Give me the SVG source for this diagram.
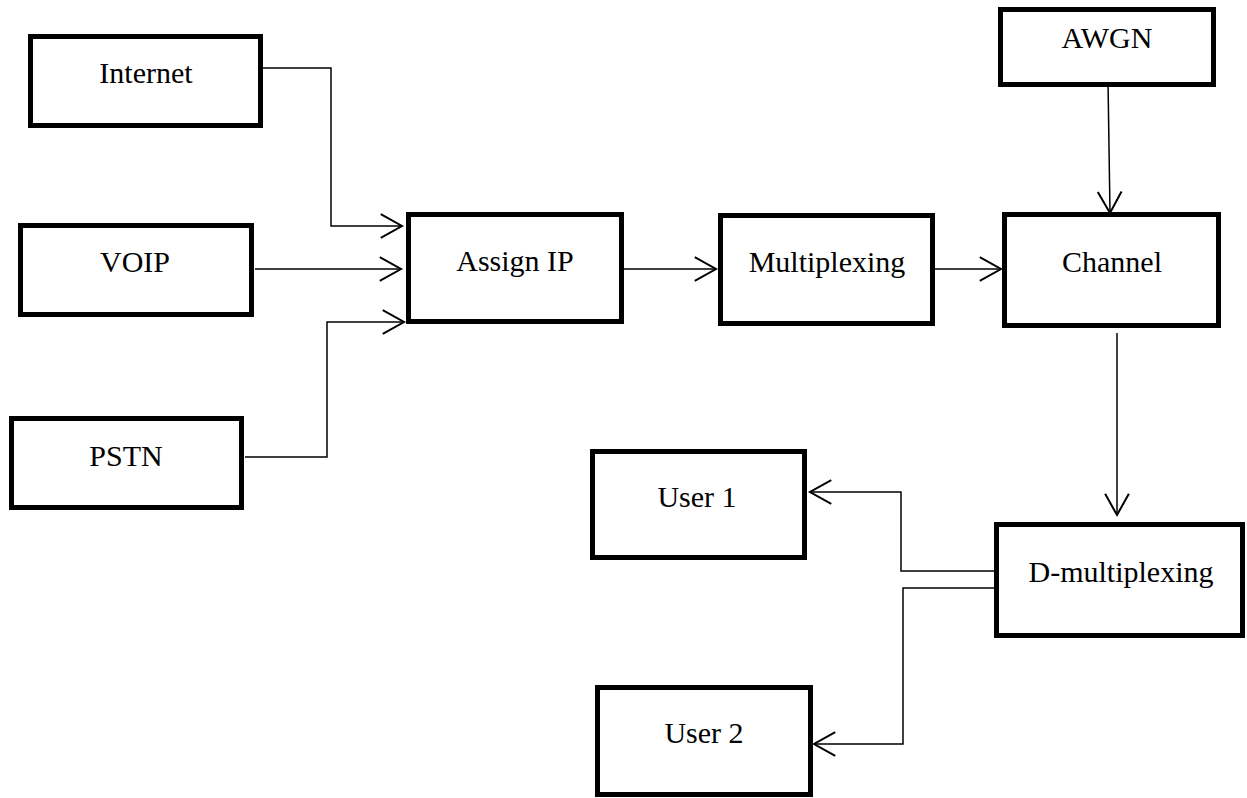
<svg xmlns="http://www.w3.org/2000/svg" width="1247" height="798" viewBox="0 0 1247 798">
<defs>
<style>
.box{fill:#fff;stroke:#000;stroke-width:5}
.lbl{font-family:"Liberation Serif","Times New Roman",serif;font-size:30px;fill:#000;text-anchor:middle}
.con{fill:none;stroke:#000;stroke-width:1.5;marker-end:url(#arr)}
</style>
<marker id="arr" markerUnits="userSpaceOnUse" markerWidth="30" markerHeight="30" viewBox="-20 -12 22 24" refX="0" refY="0" orient="auto" overflow="visible">
<path d="M-17,-9.5 L0,0 L-17,9.5" fill="none" stroke="#000" stroke-width="1.6"/>
</marker>
</defs>
<rect width="1247" height="798" fill="#fff"/>
<g id="connectors">
<path class="con" d="M258,68 H331 V226 H402"/>
<path class="con" d="M255,269 H401"/>
<path class="con" d="M245,457 H327 V322 H404"/>
<path class="con" d="M624,269 H716"/>
<path class="con" d="M935,269 H1001"/>
<path class="con" d="M1108,81 L1110,213"/>
<path class="con" d="M1117,333 V515"/>
<path class="con" d="M994,571 H901 V492 H810"/>
<path class="con" d="M994,588 H903 V744 H814"/>
</g>
<g id="internet"><rect class="box" x="30.5" y="36.5" width="230" height="89"/><text class="lbl" x="146" y="83">Internet</text></g>
<g id="voip"><rect class="box" x="20.5" y="225.5" width="231" height="89"/><text class="lbl" x="135" y="272">VOIP</text></g>
<g id="pstn"><rect class="box" x="11.5" y="418.5" width="230" height="89"/><text class="lbl" x="126" y="466">PSTN</text></g>
<g id="assign-ip"><rect class="box" x="408.5" y="214.5" width="213" height="107"/><text class="lbl" x="515" y="271">Assign IP</text></g>
<g id="multiplexing"><rect class="box" x="720.5" y="215.5" width="212" height="108"/><text class="lbl" x="827" y="272">Multiplexing</text></g>
<g id="channel"><rect class="box" x="1004.5" y="214.5" width="214" height="111"/><text class="lbl" x="1112" y="272">Channel</text></g>
<g id="awgn"><rect class="box" x="1000.5" y="9.5" width="213" height="75"/><text class="lbl" x="1107" y="48">AWGN</text></g>
<g id="d-multiplexing"><rect class="box" x="996.5" y="524.5" width="246" height="111"/><text class="lbl" x="1121" y="582">D-multiplexing</text></g>
<g id="user1"><rect class="box" x="592.5" y="451.5" width="212" height="106"/><text class="lbl" x="697" y="507">User 1</text></g>
<g id="user2"><rect class="box" x="597.5" y="687.5" width="213" height="107"/><text class="lbl" x="704" y="743">User 2</text></g>
</svg>
